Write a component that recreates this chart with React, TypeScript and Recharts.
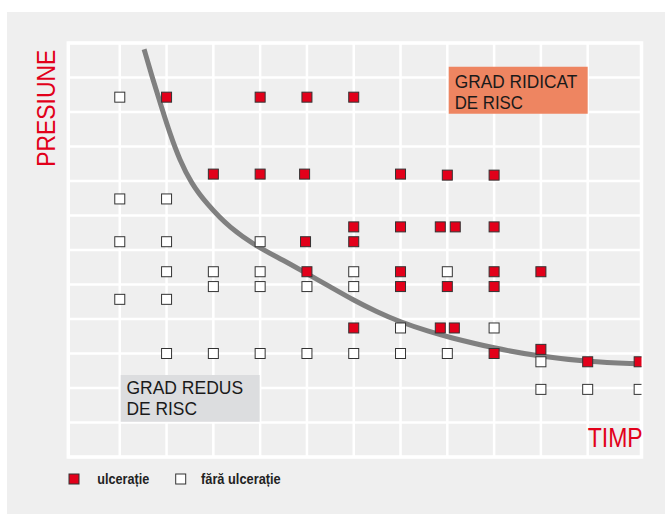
import React from "react";
import {
  ComposedChart,
  CartesianGrid,
  XAxis,
  YAxis,
  Line,
  Scatter,
  ReferenceArea,
} from "recharts";

// risk threshold curve (time vs pressure)
const curveX = [1.52, 1.71, 1.89, 2.07, 2.28, 2.53, 2.85, 3.35, 3.99, 4.49, 4.99, 5.49, 5.99, 6.49, 6.98, 7.62, 8.01, 9.0, 10.0, 11.0, 12.09];
const curveY = [11.82, 10.93, 10.15, 9.38, 8.61, 7.93, 7.35, 6.63, 6.05, 5.71, 5.32, 4.94, 4.55, 4.21, 3.92, 3.63, 3.48, 3.15, 2.91, 2.76, 2.7];

// cases with ulceration
const ulcerX = [2, 4, 5, 6, 3, 4, 4.95, 7, 8, 9, 6, 7, 7.85, 8.17, 9, 4.97, 6, 5, 7, 9, 10, 7, 8, 9, 6, 7.85, 8.15, 9, 10, 11, 12.1];
const ulcerY = [10.43, 10.43, 10.43, 10.43, 8.2, 8.2, 8.2, 8.2, 8.17, 8.17, 6.67, 6.67, 6.67, 6.67, 6.67, 6.24, 6.24, 5.37, 5.37, 5.37, 5.37, 4.94, 4.94, 4.94, 3.74, 3.74, 3.74, 3.0, 3.12, 2.76, 2.76];

// cases without ulceration
const noUlcerX = [1, 1, 2, 1, 2, 4, 2, 3, 4, 6, 8, 3, 4, 5, 6, 1, 2, 7, 9, 2, 3, 4, 5, 6, 7, 8, 10, 10, 11, 12.1];
const noUlcerY = [10.43, 7.48, 7.48, 6.24, 6.24, 6.24, 5.37, 5.37, 5.37, 5.37, 5.37, 4.94, 4.94, 4.94, 4.94, 4.57, 4.57, 3.74, 3.74, 3.0, 3.0, 3.0, 3.0, 3.0, 3.0, 3.0, 2.76, 1.96, 1.96, 1.96];

const gridTicks = [1, 2, 3, 4, 5, 6, 7, 8, 9, 10, 11];
const xDomain: [number, number] = [-0.1, 12.15];
const yDomain: [number, number] = [0, 12];

const highRiskLines = ["GRAD RIDICAT", "DE RISC"];
const lowRiskLines = ["GRAD REDUS", "DE RISC"];
const legendLabels = ["ulcerație", "fără ulcerație"];

const curveData = curveX.map((x, i) => ({ x, y: curveY[i] }));
const ulcerData = ulcerX.map((x, i) => ({ x, y: ulcerY[i] }));
const noUlcerData = noUlcerX.map((x, i) => ({ x, y: noUlcerY[i] }));

const RED = "#e2001a";
const PANEL = "#efefef";
const FONT = '"Liberation Sans", Arial, sans-serif';

const Square = (fill: string) => (props: any) => (
  <rect x={props.cx - 5} y={props.cy - 5} width={10} height={10} fill={fill} stroke="#333" strokeWidth={1} />
);

function BoxLabel(props: any) {
  const { viewBox, lines, fontSize, lengths, dx, dy } = props;
  return (
    <g>
      {lines.map((t: string, i: number) => (
        <text
          key={t}
          x={viewBox.x + dx}
          y={viewBox.y + dy + i * 21}
          fontSize={fontSize}
          fontFamily={FONT}
          fill="#1a1a1a"
          textLength={lengths[i]}
          lengthAdjust="spacingAndGlyphs"
        >
          {t}
        </text>
      ))}
    </g>
  );
}

// legend is drawn by hand so it does not eat into the plot height
const legendSpots = [
  { rx: 62, tx: 90.3, len: 52, fill: RED },
  { rx: 168.7, tx: 194, len: 79.7, fill: "#fff" },
];

export default function App() {
  return (
    <div style={{ position: "absolute", left: 7, top: 12, width: 658, height: 502, background: PANEL }}>
      <ComposedChart width={658} height={502} margin={{ top: 31, left: 61.3, right: 23.5, bottom: 57 }}>
        <CartesianGrid stroke="#fff" strokeWidth={2.5} />
        <XAxis type="number" dataKey="x" domain={xDomain} ticks={gridTicks} allowDataOverflow hide />
        <YAxis type="number" dataKey="y" domain={yDomain} ticks={gridTicks} allowDataOverflow hide />
        <ReferenceArea x1={xDomain[0]} x2={xDomain[1]} y1={yDomain[0]} y2={yDomain[1]} fill="none" stroke="#fff" strokeWidth={3.5} />
        <ReferenceArea
          x1={8.03}
          x2={11}
          y1={9.95}
          y2={11.31}
          fill="#ee8561"
          fillOpacity={1}
          label={<BoxLabel lines={highRiskLines} fontSize={18.6} lengths={[122.7, 68.3]} dx={6} dy={21.6} />}
        />
        <ReferenceArea
          x1={1.02}
          x2={3.99}
          y1={1.02}
          y2={2.38}
          fill="#dcdddf"
          fillOpacity={1}
          label={<BoxLabel lines={lowRiskLines} fontSize={18} lengths={[116.7, 70.6]} dx={5.7} dy={19} />}
        />
        <Line
          data={curveData}
          dataKey="y"
          type="basis"
          stroke="#808080"
          strokeWidth={5}
          dot={false}
          activeDot={false}
          legendType="none"
          isAnimationActive={false}
        />
        <Scatter name={legendLabels[0]} data={ulcerData} fill={RED} shape={Square(RED)} isAnimationActive={false} />
        <Scatter name={legendLabels[1]} data={noUlcerData} fill="#fff" shape={Square("#fff")} isAnimationActive={false} />
      </ComposedChart>
      <svg width={658} height={502} style={{ position: "absolute", left: 0, top: 0, pointerEvents: "none" }}>
        <text
          x={48}
          y={96.3}
          transform="rotate(-90 48 96.3)"
          textAnchor="middle"
          fontSize={26.5}
          fontFamily={FONT}
          fill={RED}
          textLength={117}
          lengthAdjust="spacingAndGlyphs"
        >
          PRESIUNE
        </text>
        <text
          x={635.7}
          y={434.7}
          textAnchor="end"
          fontSize={27}
          fontFamily={FONT}
          fill={RED}
          textLength={55}
          lengthAdjust="spacingAndGlyphs"
        >
          TIMP
        </text>
        {legendLabels.map((label, i) => (
          <g key={label}>
            <rect x={legendSpots[i].rx} y={462} width={10} height={10} fill={legendSpots[i].fill} stroke="#333" />
            <text
              x={legendSpots[i].tx}
              y={472}
              fontSize={15}
              fontWeight="bold"
              fontFamily={FONT}
              fill="#222"
              textLength={legendSpots[i].len}
              lengthAdjust="spacingAndGlyphs"
            >
              {label}
            </text>
          </g>
        ))}
      </svg>
    </div>
  );
}
